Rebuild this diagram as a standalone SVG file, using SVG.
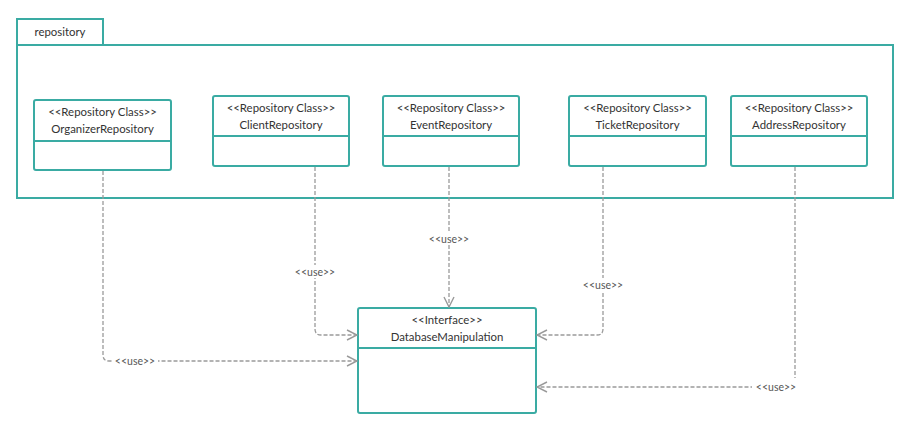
<svg xmlns="http://www.w3.org/2000/svg" width="908" height="428" viewBox="0 0 908 428">
<style>
.box{fill:#fff;stroke:#3aaba3;stroke-width:2}
.pkg{fill:#fff;stroke:#3aaba3;stroke-width:2}
.t{font-family:Lato,"Open Sans","Liberation Sans",sans-serif;font-size:11.4px;fill:#333;text-anchor:middle}
.lbl{font-family:Lato,"Open Sans","Liberation Sans",sans-serif;font-size:10.5px;fill:#555;text-anchor:middle}
.dep{fill:none;stroke:#9a9a9a;stroke-width:1.3;stroke-dasharray:4,2}
.lblbg{fill:#fff}
</style>
<defs>
<marker id="open" viewBox="0 0 12 12" refX="11" refY="6" markerWidth="12" markerHeight="12" markerUnits="userSpaceOnUse" orient="auto">
<path d="M1,1 L11,6 L1,11" fill="none" stroke="#9a9a9a" stroke-width="1.4"/>
</marker>
</defs>
<rect width="908" height="428" fill="#fff"/>
<g id="package-repository">
<rect class="pkg" x="17" y="19" width="86" height="26"/>
<rect class="pkg" x="17" y="45" width="876" height="153"/>
<text class="t" x="60" y="36">repository</text>
</g>
<g id="OrganizerRepository">
<rect class="box" x="34" y="100" width="137" height="70" rx="2"/>
<line x1="34" y1="141" x2="171" y2="141" stroke="#3aaba3" stroke-width="2"/>
<text class="t" x="102.5" y="116">&lt;&lt;Repository Class&gt;&gt;</text>
<text class="t" x="102.5" y="133">OrganizerRepository</text>
</g>
<g id="ClientRepository">
<rect class="box" x="213" y="96" width="136" height="70" rx="2"/>
<line x1="213" y1="136" x2="349" y2="136" stroke="#3aaba3" stroke-width="2"/>
<text class="t" x="281" y="112">&lt;&lt;Repository Class&gt;&gt;</text>
<text class="t" x="281" y="129">ClientRepository</text>
</g>
<g id="EventRepository">
<rect class="box" x="383" y="96" width="136" height="70" rx="2"/>
<line x1="383" y1="136" x2="519" y2="136" stroke="#3aaba3" stroke-width="2"/>
<text class="t" x="451" y="112">&lt;&lt;Repository Class&gt;&gt;</text>
<text class="t" x="451" y="129">EventRepository</text>
</g>
<g id="TicketRepository">
<rect class="box" x="569" y="96" width="137" height="70" rx="2"/>
<line x1="569" y1="136" x2="706" y2="136" stroke="#3aaba3" stroke-width="2"/>
<text class="t" x="637.5" y="112">&lt;&lt;Repository Class&gt;&gt;</text>
<text class="t" x="637.5" y="129">TicketRepository</text>
</g>
<g id="AddressRepository">
<rect class="box" x="731" y="96" width="136" height="70" rx="2"/>
<line x1="731" y1="136" x2="867" y2="136" stroke="#3aaba3" stroke-width="2"/>
<text class="t" x="799" y="112">&lt;&lt;Repository Class&gt;&gt;</text>
<text class="t" x="799" y="129">AddressRepository</text>
</g>
<g id="DatabaseManipulation">
<rect class="box" x="358" y="308" width="178" height="105" rx="2"/>
<line x1="358" y1="348" x2="536" y2="348" stroke="#3aaba3" stroke-width="2"/>
<text class="t" x="447" y="324">&lt;&lt;Interface&gt;&gt;</text>
<text class="t" x="447" y="341">DatabaseManipulation</text>
</g>
<g id="connectors">
<path class="dep" d="M103,171 V355 Q103,361 109,361 H357" marker-end="url(#open)"/>
<rect class="lblbg" x="112" y="354" width="46" height="13"/>
<text class="lbl" x="135" y="364.5">&lt;&lt;use&gt;&gt;</text>
<path class="dep" d="M315,167 V329 Q315,335 321,335 H357" marker-end="url(#open)"/>
<rect class="lblbg" x="292" y="265" width="46" height="13"/>
<text class="lbl" x="315" y="275.5">&lt;&lt;use&gt;&gt;</text>
<path class="dep" d="M449,167 V307" marker-end="url(#open)"/>
<rect class="lblbg" x="426" y="232" width="46" height="13"/>
<text class="lbl" x="449" y="242.5">&lt;&lt;use&gt;&gt;</text>
<path class="dep" d="M603,167 V329 Q603,335 597,335 H537" marker-end="url(#open)"/>
<rect class="lblbg" x="580" y="278" width="46" height="13"/>
<text class="lbl" x="603" y="288.5">&lt;&lt;use&gt;&gt;</text>
<path class="dep" d="M795,167 V381 Q795,387 789,387 H537" marker-end="url(#open)"/>
<rect class="lblbg" x="752" y="378" width="50" height="18"/>
<text class="lbl" x="776" y="391">&lt;&lt;use&gt;&gt;</text>
</g>
</svg>
